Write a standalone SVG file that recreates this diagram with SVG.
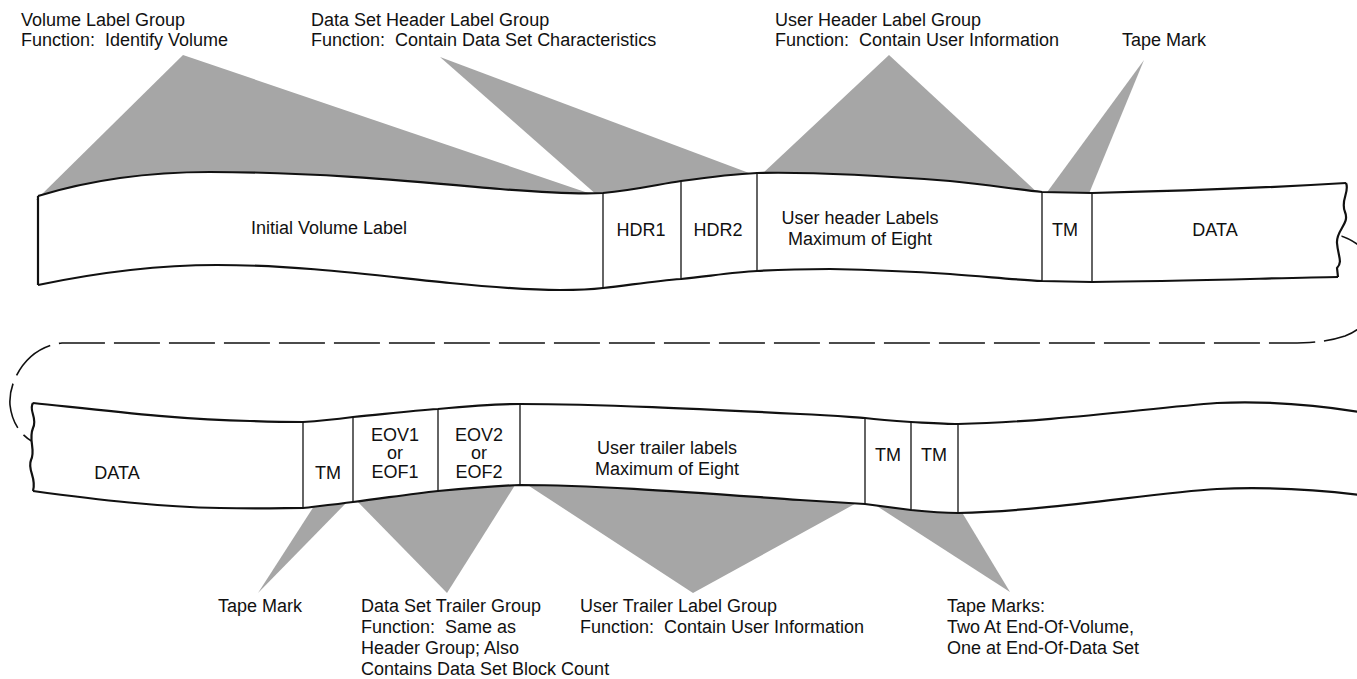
<svg xmlns="http://www.w3.org/2000/svg" width="1357" height="679" viewBox="0 0 1357 679">
  <style>
    text { font-family: "Liberation Sans", Arial, sans-serif; font-size: 18px; fill: #111; white-space: pre; }
    .mid { text-anchor: middle; }
    .wedge { fill: #a6a6a6; stroke: none; }
    .tape { fill: #fff; stroke: none; }
    .edge { fill: none; stroke: #111; stroke-width: 2.2; stroke-linejoin: round; }
    .cell { stroke: #111; stroke-width: 1.3; }
    .loop { fill: none; stroke: #111; stroke-width: 1.6; stroke-dasharray: 46 9; }
  </style>

  <!-- shaded pointers from the label groups to the tape -->
  <g id="wedges">
    <polygon class="wedge" points="183,55 36,200 597,196"/>
    <polygon class="wedge" points="440,57 598,196 757,176"/>
    <polygon class="wedge" points="889,55 760,176 1040,195"/>
    <polygon class="wedge" points="1144,60 1045,195 1088,196"/>
    <polygon class="wedge" points="258,593 316,503 350,499"/>
    <polygon class="wedge" points="447,593 354,498 517,482"/>
    <polygon class="wedge" points="693,593 523,482 862,500"/>
    <polygon class="wedge" points="1010,592 869,501 960,509"/>
  </g>

  <!-- dashed continuation from the end of the first strip to the start of the second -->
  <g id="connectors">
    <path class="loop" d="M1338,235 C1390,250 1392,318 1345,336 C1330,341 1315,343 1290,343 L62,343 C30,346 8,378 10,405 C12,424 22,436 33,442"/>
  </g>

  <!-- first tape strip -->
  <g id="tape1">
    <path class="tape" d="M38,196 C90,180 150,172 210,172 C320,172 420,182 500,189 C550,193 580,194 603,193 C635,190 660,184 681,181 C710,177 735,174 757,173 C800,172 860,174 950,181 C990,185 1020,190 1042,192 L1092,193 C1180,191 1280,187 1346,183 L1338,277 C1280,278 1180,281 1092,282 L1042,281 C1020,280 990,277 950,274 C920,272 880,270 830,269 C810,269 790,269 757,271 C735,272 710,276 681,279 C655,281 630,285 603,288 C595,289 580,290 560,290 C530,290 490,287 450,283 C380,276 300,265 217,265 C160,265 100,272 38,285 Z"/>
    <path class="edge" d="M38,196 C90,180 150,172 210,172 C320,172 420,182 500,189 C550,193 580,194 603,193 C635,190 660,184 681,181 C710,177 735,174 757,173 C800,172 860,174 950,181 C990,185 1020,190 1042,192 L1092,193 C1180,191 1280,187 1346,183"/>
    <path class="edge" d="M38,285 C100,272 160,265 217,265 C300,265 380,276 450,283 C490,287 530,290 560,290 C580,290 595,289 603,288 C630,285 655,281 681,279 C710,276 735,272 757,271 C790,269 810,269 830,269 C880,270 920,272 950,274 C990,277 1020,280 1042,281 L1092,282 C1180,281 1280,278 1338,277"/>
    <path class="edge" d="M38,196 L38,285"/>
    <path class="edge" d="M1346,183 C1350,192 1340,200 1345,212 C1350,224 1336,230 1337,243 C1338,256 1343,262 1337,268 L1338,277"/>
  </g>

  <g id="initial-volume-label">
    <text class="mid" x="329" y="234">Initial Volume Label</text>
  </g>
  <g id="hdr1">
    <line class="cell" x1="603" y1="193" x2="603" y2="288"/>
    <text class="mid" x="641" y="236">HDR1</text>
  </g>
  <g id="hdr2">
    <line class="cell" x1="681" y1="181" x2="681" y2="279"/>
    <text class="mid" x="718" y="236">HDR2</text>
  </g>
  <g id="user-header-labels">
    <line class="cell" x1="757" y1="173" x2="757" y2="271"/>
    <text class="mid" x="860" y="224">User header Labels</text>
    <text class="mid" x="860" y="245">Maximum of Eight</text>
  </g>
  <g id="tm-header">
    <line class="cell" x1="1042" y1="192" x2="1042" y2="281"/>
    <line class="cell" x1="1092" y1="193" x2="1092" y2="282"/>
    <text class="mid" x="1065" y="236">TM</text>
  </g>
  <g id="data-1">
    <text class="mid" x="1215" y="236">DATA</text>
  </g>

  <!-- second tape strip -->
  <g id="tape2">
    <path class="tape" d="M33,403 C100,410 180,420 250,421 C280,422 295,422 303,422 C320,421 338,419 353,417 C385,414 410,411 438,409 C470,406 495,404 520,404 C600,404 700,409 800,414 C830,415 850,417 865,418 C880,420 895,421 911,422 C930,423 945,424 958,424 C1050,422 1150,408 1217,403 C1260,401 1310,404 1360,412 L1360,495 C1310,489 1260,487 1217,489 C1150,493 1050,511 958,513 C945,513 930,512 911,510 C895,508 880,506 865,504 C850,503 830,502 800,500 C700,493 600,485 520,485 C495,486 470,488 438,491 C410,494 385,498 353,502 C338,504 320,506 303,508 C285,508 260,509 220,508 C160,507 100,500 33,491 C37,478 27,470 31,460 C36,450 28,440 33,428 C38,418 28,410 33,403 Z"/>
    <path class="edge" d="M33,403 C100,410 180,420 250,421 C280,422 295,422 303,422 C320,421 338,419 353,417 C385,414 410,411 438,409 C470,406 495,404 520,404 C600,404 700,409 800,414 C830,415 850,417 865,418 C880,420 895,421 911,422 C930,423 945,424 958,424 C1050,422 1150,408 1217,403 C1260,401 1310,404 1360,412"/>
    <path class="edge" d="M33,491 C100,500 160,507 220,508 C260,509 285,508 303,508 C320,506 338,504 353,502 C385,498 410,494 438,491 C470,488 495,486 520,485 C600,485 700,493 800,500 C830,502 850,503 865,504 C880,506 895,508 911,510 C930,512 945,513 958,513 C1050,511 1150,493 1217,489 C1260,487 1310,489 1360,495"/>
    <path class="edge" d="M33,403 C28,410 38,418 33,428 C28,440 36,450 31,460 C27,470 37,478 33,491"/>
  </g>

  <g id="data-2">
    <text class="mid" x="117" y="479">DATA</text>
  </g>
  <g id="tm-trailer">
    <line class="cell" x1="303" y1="422" x2="303" y2="508"/>
    <text class="mid" x="328" y="479">TM</text>
  </g>
  <g id="eov1-eof1">
    <line class="cell" x1="353" y1="417" x2="353" y2="502"/>
    <text class="mid" x="395" y="441">EOV1</text>
    <text class="mid" x="395" y="459">or</text>
    <text class="mid" x="395" y="478">EOF1</text>
  </g>
  <g id="eov2-eof2">
    <line class="cell" x1="438" y1="409" x2="438" y2="491"/>
    <text class="mid" x="479" y="441">EOV2</text>
    <text class="mid" x="479" y="459">or</text>
    <text class="mid" x="479" y="478">EOF2</text>
  </g>
  <g id="user-trailer-labels">
    <line class="cell" x1="520" y1="404" x2="520" y2="485"/>
    <text class="mid" x="667" y="454">User trailer labels</text>
    <text class="mid" x="667" y="475">Maximum of Eight</text>
  </g>
  <g id="tm-end-1">
    <line class="cell" x1="865" y1="418" x2="865" y2="504"/>
    <text class="mid" x="888" y="461">TM</text>
  </g>
  <g id="tm-end-2">
    <line class="cell" x1="911" y1="422" x2="911" y2="510"/>
    <line class="cell" x1="958" y1="424" x2="958" y2="513"/>
    <text class="mid" x="934" y="461">TM</text>
  </g>

  <!-- label group captions -->
  <g id="label-volume">
    <text x="21" y="26">Volume Label Group</text>
    <text x="21" y="46">Function:  Identify Volume</text>
  </g>
  <g id="label-dataset-header">
    <text x="311" y="26">Data Set Header Label Group</text>
    <text x="311" y="46">Function:  Contain Data Set Characteristics</text>
  </g>
  <g id="label-user-header">
    <text x="775" y="26">User Header Label Group</text>
    <text x="775" y="46">Function:  Contain User Information</text>
  </g>
  <g id="label-tape-mark-top">
    <text x="1122" y="46">Tape Mark</text>
  </g>
  <g id="label-tape-mark-bottom">
    <text x="218" y="612">Tape Mark</text>
  </g>
  <g id="label-dataset-trailer">
    <text x="361" y="612">Data Set Trailer Group</text>
    <text x="361" y="633">Function:  Same as</text>
    <text x="361" y="654">Header Group; Also</text>
    <text x="361" y="675">Contains Data Set Block Count</text>
  </g>
  <g id="label-user-trailer">
    <text x="580" y="612">User Trailer Label Group</text>
    <text x="580" y="633">Function:  Contain User Information</text>
  </g>
  <g id="label-tape-marks">
    <text x="947" y="612">Tape Marks:</text>
    <text x="947" y="633">Two At End-Of-Volume,</text>
    <text x="947" y="654">One at End-Of-Data Set</text>
  </g>
</svg>
